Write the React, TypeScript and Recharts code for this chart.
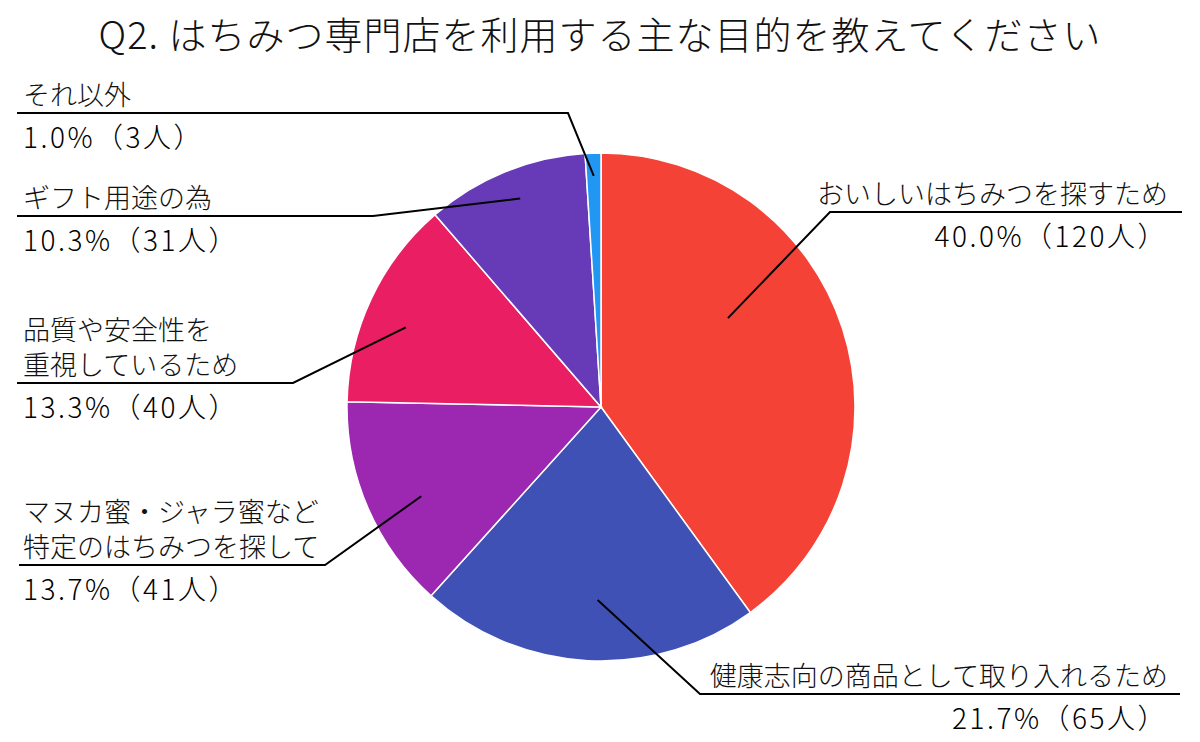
import { Cell, Pie, PieChart } from "recharts";

const FONT = '"Noto Sans CJK JP", "Noto Sans", sans-serif';

const title = "Q2. はちみつ専門店を利用する主な目的を教えてください";

// answers in clockwise order from 12 o'clock, wrapped the way the callouts print them
const reasonLines = [
  ["おいしいはちみつを探すため"],
  ["健康志向の商品として取り入れるため"],
  ["マヌカ蜜・ジャラ蜜など", "特定のはちみつを探して"],
  ["品質や安全性を", "重視しているため"],
  ["ギフト用途の為"],
  ["それ以外"],
];
const counts = [120, 65, 41, 40, 31, 3];
const colors = ["#F44336", "#3F51B5", "#9C27B0", "#E91E63", "#673AB7", "#2196F3"];

// callout placement: underline row, its x span, and where the pointer lands inside the slice
const callouts = [
  { side: "right", lineY: 212, x0: 830, x1: 1182, shift: -17, depth: 0.61 },
  { side: "right", lineY: 694, x0: 700, x1: 1180, shift: -2, depth: 0.76 },
  { side: "left", lineY: 565, x0: 19, x1: 325, shift: -3, depth: 0.79 },
  { side: "left", lineY: 383, x0: 17, x1: 293, shift: -3, depth: 0.83 },
  { side: "left", lineY: 216, x0: 17, x1: 373, shift: 1, depth: 0.88 },
  { side: "left", lineY: 113, x0: 17, x1: 568, shift: 0, depth: 0.91 },
];

const total = counts.reduce((a, b) => a + b, 0);
const data = counts.map((n, i) => ({ name: reasonLines[i].join(""), value: n }));

const RAD = Math.PI / 180;
const LINE_GAP = 35;

function Callout(props: any) {
  const { cx, cy, midAngle, outerRadius, index } = props;
  const c = callouts[index];
  const lines = reasonLines[index];
  // recharts angles run counter-clockwise from 3 o'clock; convert to clockwise from top
  const a = (90 - midAngle + c.shift) * RAD;
  const r = outerRadius * c.depth;
  const ax = cx + r * Math.sin(a);
  const ay = cy - r * Math.cos(a);
  const left = c.side === "left";
  const elbowX = left ? c.x1 : c.x0;
  const farX = left ? c.x0 : c.x1;
  const textX = left ? 23 : 1168;
  const anchor = left ? "start" : "end";
  const pct = ((counts[index] / total) * 100).toFixed(1);
  const firstY = c.lineY - 20 - (lines.length - 1) * LINE_GAP;

  return (
    <g>
      <path
        d={`M${ax},${ay}L${elbowX},${c.lineY}L${farX},${c.lineY}`}
        fill="none"
        stroke="#000"
        strokeWidth={2}
      />
      <text
        x={textX}
        y={firstY}
        textAnchor={anchor}
        dominantBaseline="central"
        fontSize={27}
        fontWeight={300}
        fontFamily={FONT}
        fill="#111"
      >
        {lines.map((ln, k) => (
          <tspan key={k} x={textX} dy={k === 0 ? 0 : LINE_GAP}>
            {ln}
          </tspan>
        ))}
      </text>
      <text
        x={textX}
        y={c.lineY + 23}
        textAnchor={anchor}
        dominantBaseline="central"
        fontSize={28}
        fontWeight={300}
        letterSpacing={2.5}
        fontFamily={FONT}
        fill="#000"
      >
        {`${pct}%（${counts[index]}人）`}
      </text>
    </g>
  );
}

export default function App() {
  return (
    <div style={{ position: "absolute", left: 0, top: 0, width: 1200, height: 742, background: "#fff" }}>
      <div
        style={{
          position: "absolute",
          left: 0,
          top: 11,
          width: 1200,
          textAlign: "center",
          fontFamily: FONT,
          fontWeight: 300,
          fontSize: 38,
          letterSpacing: 1,
          lineHeight: "44px",
          color: "#111",
        }}
      >
        {title}
      </div>
      <PieChart width={1200} height={742} margin={{ top: 0, right: 0, bottom: 0, left: 0 }}>
        <Pie
          data={data}
          dataKey="value"
          nameKey="name"
          cx={601}
          cy={407}
          outerRadius={254}
          startAngle={90}
          endAngle={-270}
          stroke="#fff"
          strokeWidth={1.5}
          label={Callout}
          labelLine={false}
          isAnimationActive={false}
        >
          {data.map((_, i) => (
            <Cell key={i} fill={colors[i]} />
          ))}
        </Pie>
      </PieChart>
    </div>
  );
}
